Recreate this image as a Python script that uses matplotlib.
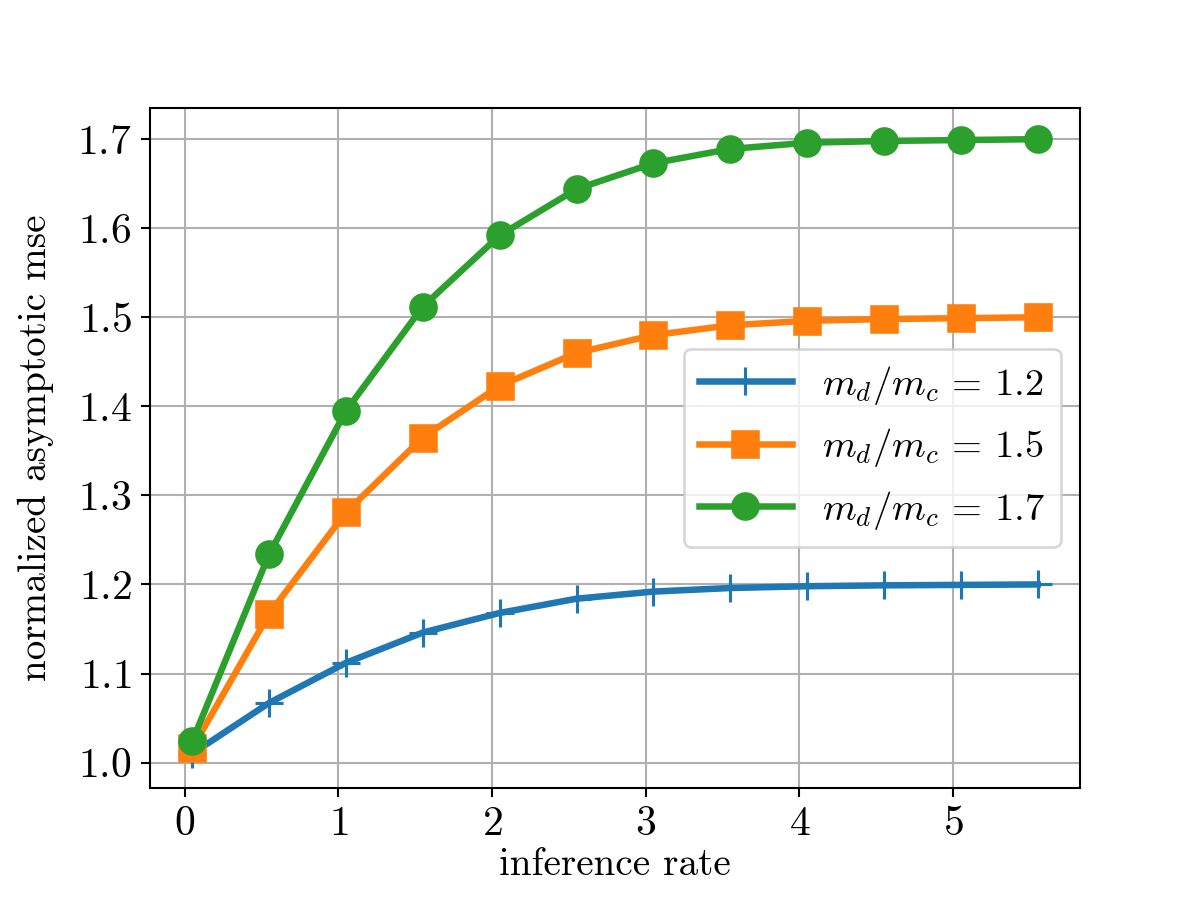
import numpy as np
import matplotlib
matplotlib.use("Agg")
import matplotlib.pyplot as plt

plt.rcParams['font.family'] = 'serif'
plt.rcParams['font.serif'] = ['cmr10']
plt.rcParams['mathtext.fontset'] = 'cm'
plt.rcParams['axes.unicode_minus'] = False
plt.rcParams['axes.formatter.use_mathtext'] = True

rate = [0.05, 0.55, 1.05, 1.55, 2.05, 2.55, 3.05, 3.55, 4.05, 4.55, 5.05, 5.55]
mse_12 = [1.010, 1.067, 1.112, 1.146, 1.168, 1.184, 1.192, 1.196, 1.198, 1.199, 1.1995, 1.2]
mse_15 = [1.016, 1.167, 1.281, 1.365, 1.423, 1.460, 1.480, 1.491, 1.496, 1.498, 1.499, 1.5]
mse_17 = [1.024, 1.234, 1.395, 1.512, 1.592, 1.644, 1.673, 1.689, 1.696, 1.698, 1.699, 1.7]
labels = [r'$m_d/m_c\,=\,1.2$', r'$m_d/m_c\,=\,1.5$', r'$m_d/m_c\,=\,1.7$']

fig, ax = plt.subplots(figsize=(6.4, 4.8), dpi=187.5)
fig.subplots_adjust(bottom=0.125)
ax.plot(rate, mse_12, marker='+', lw=2.5, ms=11, mew=1.2, label=labels[0])
ax.plot(rate, mse_15, marker='s', lw=2.5, ms=10, label=labels[1])
ax.plot(rate, mse_17, marker='o', lw=2.5, ms=10, label=labels[2])

ax.set_ylim(0.972, 1.735)
ax.set_xlabel('inference rate', fontsize=15, labelpad=1.5)
ax.set_ylabel('normalized asymptotic mse', fontsize=15, labelpad=9)
ax.tick_params(labelsize=16)
ax.grid(True)
ax.legend(loc='center right', fontsize=14.8, handlelength=2.4)

fig.savefig('out.png')
